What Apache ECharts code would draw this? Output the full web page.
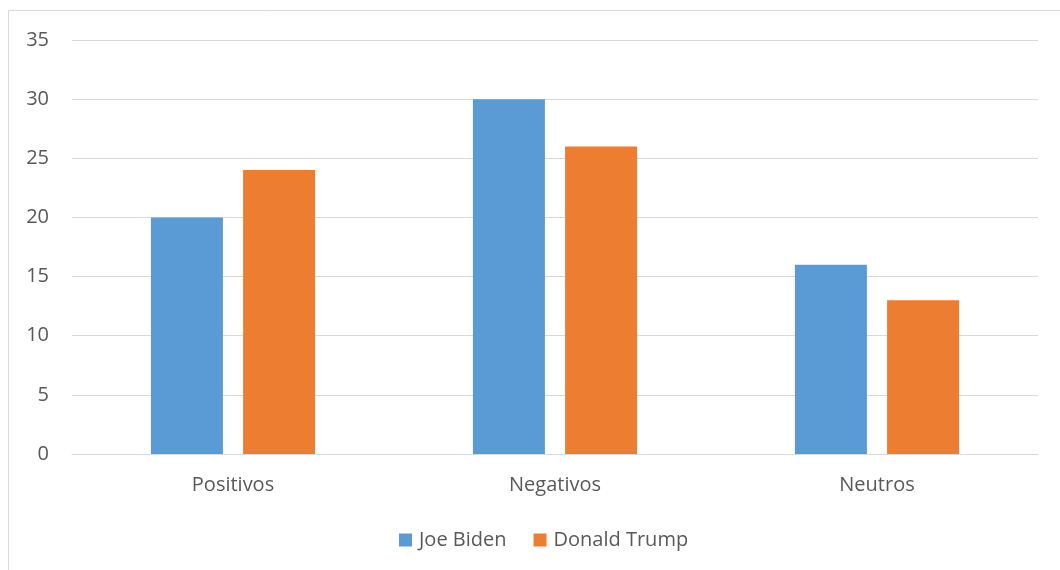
<!DOCTYPE html>
<html><head><meta charset="utf-8">
<script src="https://cdn.jsdelivr.net/npm/echarts@6/dist/echarts.min.js"></script>
<style>html,body{margin:0;padding:0;background:#fff}#c{width:1060px;height:570px}</style>
</head><body><div id="c"></div>
<script>
const categories = ['Positivos', 'Negativos', 'Neutros'];
const biden = [20, 30, 16];
const trump = [24, 26, 13];
const yTicks = [0, 5, 10, 15, 20, 25, 30, 35];

const chart = echarts.init(document.getElementById('c'));
const font = '"Open Sans", "Noto Sans", sans-serif';
chart.setOption({
  animation: false,
  textStyle: { fontFamily: font },
  graphic: [{
    type: 'rect', shape: { x: 8.5, y: 10.5, width: 1100, height: 600 },
    style: { fill: 'none', stroke: '#d9d9d9', lineWidth: 1 }, silent: true
  }],
  grid: { left: 72, right: 22, top: 40, bottom: 116, containLabel: false },
  legend: {
    data: ['Joe Biden', 'Donald Trump'], top: 525, left: 394,
    icon: 'rect', itemWidth: 13, itemHeight: 13, itemGap: 27,
    textStyle: { color: '#595959', fontSize: 20, fontFamily: font, padding: [0, 0, 0, 2] }
  },
  xAxis: {
    type: 'category', data: categories,
    axisLine: { lineStyle: { color: '#d9d9d9' } }, axisTick: { show: false },
    axisLabel: { color: '#595959', fontSize: 20, margin: 21, fontFamily: font }
  },
  yAxis: {
    type: 'value', min: yTicks[0], max: yTicks[yTicks.length - 1], interval: 5,
    axisLine: { show: false }, axisTick: { show: false },
    splitLine: { lineStyle: { color: '#d9d9d9', width: 1 } },
    axisLabel: { color: '#595959', fontSize: 20, margin: 23, fontFamily: font }
  },
  series: [
    { name: 'Joe Biden', type: 'bar', data: biden, barWidth: 72, barGap: '28%',
      itemStyle: { color: '#5b9bd5' } },
    { name: 'Donald Trump', type: 'bar', data: trump, barWidth: 72,
      itemStyle: { color: '#ed7d31' } }
  ]
});
</script></body></html>
